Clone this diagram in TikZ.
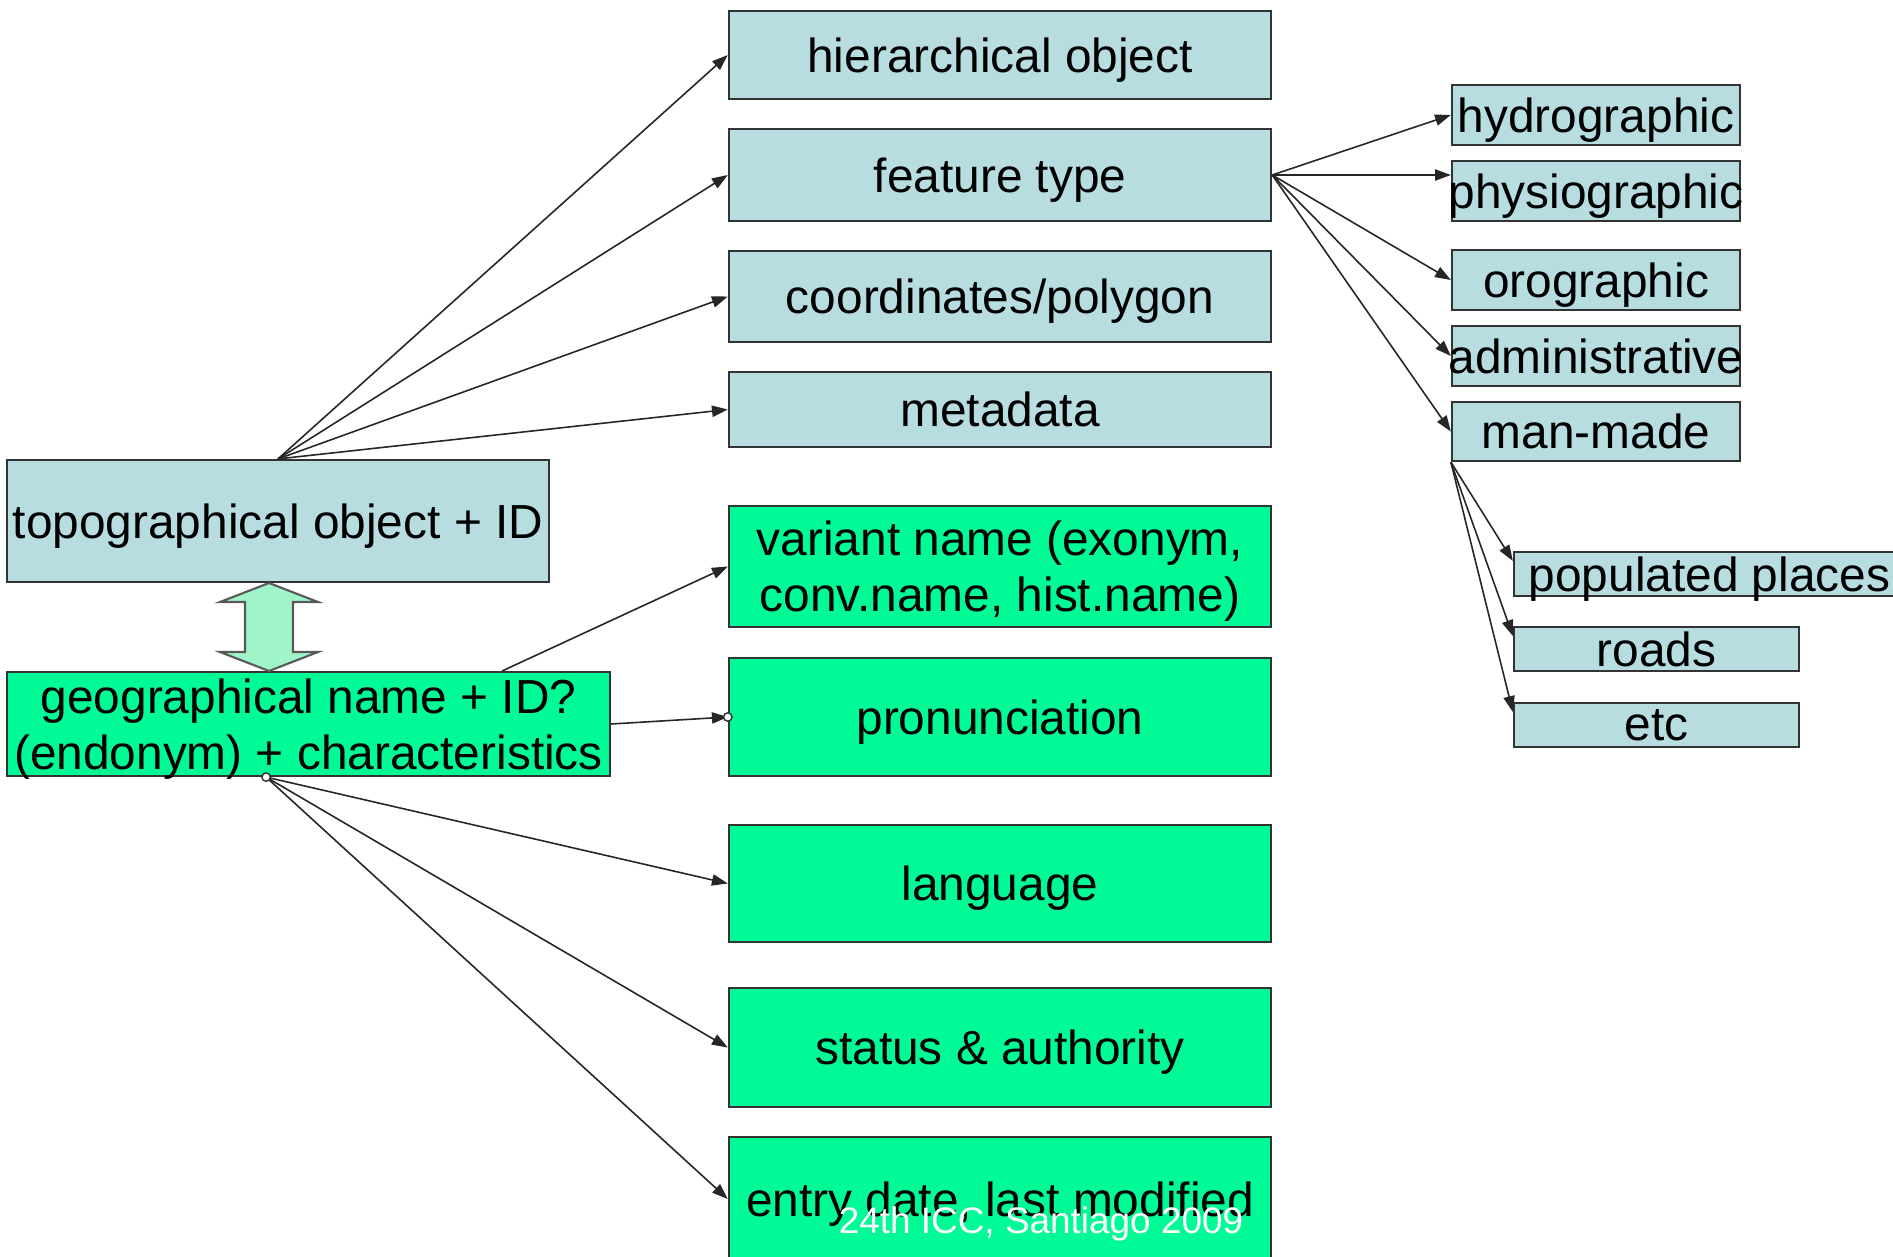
\documentclass[tikz,border=0pt]{standalone}
\usepackage{fontspec}
\setmainfont{Liberation Sans}
\usetikzlibrary{arrows.meta,calc}
\definecolor{boxblue}{RGB}{183,221,224}
\definecolor{boxgreen}{RGB}{0,250,150}
\definecolor{arrowgreen}{RGB}{160,245,200}
\tikzstyle{bluebox}=[draw=black!80,line width=0.6pt,fill=boxblue,inner sep=0pt,align=center,text depth=0pt,font=\fontsize{13.6}{16}\selectfont]
\tikzstyle{greenbox}=[bluebox,fill=boxgreen]
\tikzstyle{midbox}=[minimum width=5.42cm]
\tikzstyle{kindbox}=[bluebox,minimum width=2.88cm,minimum height=0.6cm,inner xsep=-0.05cm]
\tikzstyle{subbox}=[bluebox,minimum width=2.85cm,minimum height=0.44cm]
\tikzstyle{link}=[black!85,line width=0.45pt,-{Triangle[length=4.5pt,width=3.2pt]}]

\begin{document}
\begin{tikzpicture}[x=0.01cm,y=-0.01cm]
		\useasboundingbox[fill=white] (0,0) rectangle (1893,1257);

		\node[bluebox,midbox,minimum height=0.88cm] (hier) at (1000,55) {hierarchical object};
		\node[bluebox,midbox,minimum height=0.92cm] (feat) at (1000,175) {feature type};
		\node[bluebox,midbox,minimum height=0.91cm] (coord) at (1000,296.5) {coordinates/polygon};
		\node[bluebox,midbox,minimum height=0.75cm] (meta) at (1000,409.5) {metadata};
		\node[greenbox,midbox,minimum height=1.21cm] (variant) at (1000,566.5) {variant name (exonym,\\ conv.name, hist.name)};
		\node[greenbox,midbox,minimum height=1.18cm] (pron) at (1000,717) {pronunciation};
		\node[greenbox,midbox,minimum height=1.17cm] (lang) at (1000,883.5) {language};
		\node[greenbox,midbox,minimum height=1.19cm] (status) at (1000,1047.5) {status \& authority};
		\node[greenbox,midbox,minimum height=1.24cm] (entry) at (1000,1199) {entry date, last modified};

		\node[bluebox,minimum width=5.42cm,minimum height=1.22cm] (topo) at (278,521) {topographical object + ID};
		\node[greenbox,minimum width=6.03cm,minimum height=1.04cm] (geo) at (308.5,724) {geographical name + ID?\\(endonym) + characteristics};

		\node[kindbox] (hydro) at (1596,115) {hydrographic};
		\node[kindbox] (physio) at (1596,191) {physiographic};
		\node[kindbox] (oro) at (1596,280) {orographic};
		\node[kindbox] (admin) at (1596,356) {administrative};
		\node[kindbox,minimum height=0.59cm] (manmade) at (1596,431.5) {man-made};

		\node[subbox,minimum width=3.91cm] (pop) at (1709.5,574) {populated places};
		\node[subbox] (roads) at (1656.5,649) {roads};
		\node[subbox] (etc) at (1656.5,725) {etc};

		\draw[black!65,line width=0.6pt,fill=arrowgreen]
			(269,583) -- (318,602) -- (293,602) -- (293,652) -- (318,652) -- (269,671)
			-- (220,652) -- (245,652) -- (245,602) -- (220,602) -- cycle;

		\foreach \t in {hier,feat,coord,meta}
			\draw[link] (topo.north) -- (\t.west);

		\draw[link] ($(geo.north west)!0.82!(geo.north east)$) -- (variant.west);
		\draw[link] (geo.east) -- (pron.west);
		\draw[black!80,line width=0.4pt,fill=white] (pron.west) circle (1.2pt);

		\coordinate (geoBottom) at ($(geo.south west)!0.43!(geo.south east)$);
		\foreach \t in {lang,status,entry}
			\draw[link] (geoBottom) -- (\t.west);
		\draw[black!80,line width=0.4pt,fill=white] (geoBottom) circle (1.2pt);

		\draw[link] (feat.east) -- (hydro.west);
		\draw[link] (feat.east) -- (feat.east -| physio.west);
		\foreach \t in {oro,admin,manmade}
			\draw[link] (feat.east) -- (\t.west);

		\foreach \t in {pop,roads,etc}
			\draw[link] (manmade.south west) -- ($(\t.north west)+(0,10)$);

		\node[text=white,font=\fontsize{10.5}{12}\selectfont] (footer) at (1041,1224) {24th ICC, Santiago 2009};
\end{tikzpicture}
\end{document}
